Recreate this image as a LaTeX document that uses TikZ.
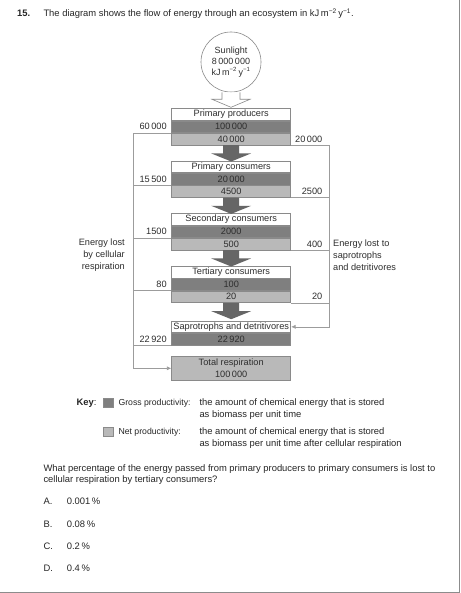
\documentclass[tikz,border=0pt]{standalone}
\usepackage{fontspec}
\setmainfont{Liberation Sans}
\usetikzlibrary{calc,arrows.meta}
\definecolor{darkrow}{HTML}{7F7F7F}
\definecolor{lightrow}{HTML}{B9B9B9}
\definecolor{arrowc}{HTML}{666666}
\definecolor{linec}{HTML}{9C9C9C}
\definecolor{boxline}{HTML}{8A8A8A}
\definecolor{txt}{HTML}{2E2E2E}
\definecolor{pageline}{HTML}{8C8C8C}
\begin{document}
\begin{tikzpicture}[x=1pt,y=-1pt,
  every node/.style={text=txt, font=\fontsize{9.2}{11}\selectfont},
  row/.style={draw=boxline, line width=0.6pt, minimum width=119pt, minimum height=11.7pt, inner sep=0pt, anchor=north},
  wrow/.style={row, fill=white},
  drow/.style={row, fill=darkrow},
  lrow/.style={row, fill=lightrow},
  conn/.style={draw=linec, line width=0.7pt},
  connarrow/.style={conn, -{Latex[length=4.5pt,width=4pt]}},
  numl/.style={anchor=east, inner sep=0pt},
  sidelabel/.style={inner sep=0pt, font=\fontsize{9.2}{11.8}\selectfont},
  body/.style={anchor=base west, inner sep=0pt, text=black!85, font=\fontsize{9.4}{11}\selectfont},
  keylabel/.style={body, font=\fontsize{8.7}{11}\selectfont},
  keybox/.style={draw=boxline, line width=0.6pt, minimum width=10pt, minimum height=9.5pt, inner sep=0pt, anchor=north west},
  pics/flowarrow/.style={code={
    \fill[arrowc] (-8,0) -- (-8,8.2) -- (-20,8.2) -- (0,16.3) -- (20,8.2) -- (8,8.2) -- (8,0) -- cycle;}},
  pics/hollowarrow/.style={code={
    \draw[boxline, fill=white, line width=0.6pt] (-9,0) -- (-9,7) -- (-19,7) -- (0,15) -- (19,7) -- (9,7) -- (9,0);}},
]
\useasboundingbox (0,0) rectangle (460,593);
\fill[white] (0,0) rectangle (460,593);
% page frame
\draw[pageline, line width=1.4pt] (459.2,0) -- (459.2,592.2) -- (0,592.2);

% header
\node[body, font=\bfseries\fontsize{9.4}{11}\selectfont] (qnum) at (17,17) {15.};
\node[body] (qtext) at (43.3,17) {The diagram shows the flow of energy through an ecosystem in kJ\,m\textsuperscript{−2}\,y\textsuperscript{−1}.};

% sunlight
\node[circle, draw=boxline, line width=0.6pt, minimum size=60pt, inner sep=0pt, align=center, font=\fontsize{9}{10.8}\selectfont] (sun) at (231,62) {Sunlight\\8\,000\,000\\kJ\,m\textsuperscript{−2}\,y\textsuperscript{−1}};
\pic at (sun.south) {hollowarrow};

% primary producers
\node[wrow] (pp1) at (231.2,108.3) {Primary producers};
\node[drow] (pp2) at (pp1.south) {100\,000};
\node[lrow] (pp3) at (pp2.south) {40\,000};
% primary consumers
\node[wrow] (pc1) at (231.2,160.7) {Primary consumers};
\node[drow] (pc2) at (pc1.south) {20\,000};
\node[lrow] (pc3) at (pc2.south) {4500};
% secondary consumers
\node[wrow] (sc1) at (231.2,213.3) {Secondary consumers};
\node[drow] (sc2) at (sc1.south) {2000};
\node[lrow] (sc3) at (sc2.south) {500};
% tertiary consumers
\node[wrow] (tc1) at (231.2,266) {Tertiary consumers};
\node[drow] (tc2) at (tc1.south) {100};
\node[lrow] (tc3) at (tc2.south) {20};
% saprotrophs
\node[wrow] (sd1) at (231.2,320.7) {Saprotrophs and detritivores};
\node[drow] (sd2) at (sd1.south) {22\,920};
% total respiration
\node[row, fill=lightrow, minimum height=24pt, align=center, font=\fontsize{9.2}{11.2}\selectfont] (tr) at (231.2,356) {Total respiration\\100\,000};

% flow arrows
\pic at (pp3.south) {flowarrow};
\pic at (pc3.south) {flowarrow};
\pic at (sc3.south) {flowarrow};
\pic at (tc3.south) {flowarrow};

% left connectors (respiration)
\draw[connarrow] (pp2.south west) -- ++(-38.5,0) coordinate (lt) |- (tr.west);
\draw[conn] (pc2.south west) -- (pc2.south west -| lt);
\draw[conn] (sc2.south west) -- (sc2.south west -| lt);
\draw[conn] (tc2.south west) -- (tc2.south west -| lt);
\draw[conn] (sd2.south west) -- (sd2.south west -| lt);

% right connectors (saprotrophs)
\draw[connarrow] (pp3.south east) -- ++(38.4,0) coordinate (rt) |- (sd1.east);
\draw[conn] (pc3.south east) -- (pc3.south east -| rt);
\draw[conn] (sc3.south east) -- (sc3.south east -| rt);
\draw[conn] (tc3.south east) -- (tc3.south east -| rt);

% left numbers
\node[numl] (l1) at ($(pp2.west)+(-4.5,0)$) {60\,000};
\node[numl] (l2) at ($(pc2.west)+(-4.5,0)$) {15\,500};
\node[numl] (l3) at ($(sc2.west)+(-4.5,0)$) {1500};
\node[numl] (l4) at ($(tc2.west)+(-4.5,0)$) {80};
\node[numl] (l5) at ($(sd2.west)+(-4.5,0)$) {22\,920};
% right numbers
\node[numl] (r1) at ($(pp3.east)+(31.5,0)$) {20\,000};
\node[numl] (r2) at ($(pc3.east)+(31.5,0)$) {2500};
\node[numl] (r3) at ($(sc3.east)+(31.5,0)$) {400};
\node[numl] (r4) at ($(tc3.east)+(31.5,0)$) {20};

% side labels
\node[sidelabel, anchor=east, align=right] (lostresp) at (125,255) {Energy lost\\by cellular\\respiration};
\node[sidelabel, anchor=west, align=left] (lostsap) at (333,255) {Energy lost to\\saprotrophs\\and detritivores};

% key
\node[body] (key) at (76.5,405) {\textbf{Key}:};
\node[keybox, fill=darkrow] (k1) at (103.3,397.5) {};
\node[keylabel] (k1a) at (118.3,405) {Gross productivity:};
\node[body] (k1b) at (199.3,405) {the amount of chemical energy that is stored};
\node[body] (k1c) at (199.3,417.5) {as biomass per unit time};
\node[keybox, fill=lightrow] (k2) at (103.3,426.5) {};
\node[keylabel] (k2a) at (118.3,434.5) {Net productivity:};
\node[body] (k2b) at (199.3,434.5) {the amount of chemical energy that is stored};
\node[body] (k2c) at (199.3,446.8) {as biomass per unit time after cellular respiration};

% question
\node[body] (q1) at (43.3,471.3) {What percentage of the energy passed from primary producers to primary consumers is lost to};
\node[body] (q2) at (43.3,482.3) {cellular respiration by tertiary consumers?};
\node[body] (oa) at (43.3,504.7) {A.};
\node[body] (va) at (66.7,504.7) {0.001\,\%};
\node[body] (ob) at (43.3,527) {B.};
\node[body] (vb) at (66.7,527) {0.08\,\%};
\node[body] (oc) at (43.3,549) {C.};
\node[body] (vc) at (66.7,549) {0.2\,\%};
\node[body] (od) at (43.3,571.3) {D.};
\node[body] (vd) at (66.7,571.3) {0.4\,\%};
\end{tikzpicture}
\end{document}
